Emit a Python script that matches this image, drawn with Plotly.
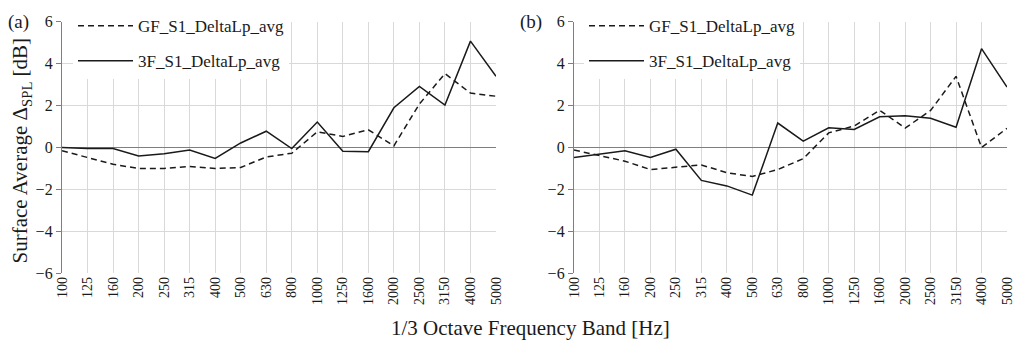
import plotly.graph_objects as go

bands = ["100", "125", "160", "200", "250", "315", "400", "500", "630", "800",
         "1000", "1250", "1600", "2000", "2500", "3150", "4000", "5000"]

gf_a = [-0.15, -0.47, -0.8, -1.0, -1.0, -0.9, -1.0, -0.95, -0.45, -0.27,
        0.75, 0.53, 0.85, 0.08, 2.08, 3.53, 2.6, 2.45]
f3_a = [0.0, -0.05, -0.05, -0.4, -0.3, -0.12, -0.52, 0.22, 0.78, -0.05,
        1.22, -0.18, -0.2, 1.9, 2.92, 2.03, 5.08, 3.4]

gf_b = [-0.12, -0.4, -0.65, -1.05, -0.95, -0.83, -1.2, -1.38, -1.05, -0.53,
        0.7, 1.03, 1.78, 0.93, 1.77, 3.4, 0.0, 0.92]
f3_b = [-0.47, -0.3, -0.15, -0.47, -0.08, -1.57, -1.83, -2.27, 1.17, 0.31,
        0.94, 0.86, 1.47, 1.52, 1.4, 0.97, 4.72, 2.89]

names = ["GF_S1_DeltaLp_avg", "3F_S1_DeltaLp_avg"]
yticks = [-6, -4, -2, 0, 2, 4, 6]

FONT = "Liberation Serif"
# page body has an 8px margin; size the figure so that it fits the window
OFF = 8
W, H = 1024 - 2 * OFF, 350 - 2 * OFF
LINE = "#1a1a1a"
TXT = "#1a1a1a"


def px(x):
    return (x - OFF) / W


def py(y):
    return 1 - (y - OFF) / H


fig = go.Figure()

panels = [
    ("x", "y", "legend", gf_a, f3_a),
    ("x2", "y2", "legend2", gf_b, f3_b),
]
for xa, ya, lg, gf, f3 in panels:
    fig.add_trace(go.Scatter(x=bands, y=gf, mode="lines", name=names[0],
                             line=dict(color=LINE, width=1.5, dash="6px,4px"),
                             xaxis=xa, yaxis=ya, legend=lg, legendgroup=lg + "a"))
    fig.add_trace(go.Scatter(x=bands, y=f3, mode="lines", name=names[1],
                             line=dict(color=LINE, width=1.5),
                             xaxis=xa, yaxis=ya, legend=lg, legendgroup=lg + "b"))

ydom = [py(272), py(16)]
xdoms = [[px(62), px(496)], [px(574), px(1007)]]

common_x = dict(type="category", range=[0, len(bands) - 1], showgrid=True,
                gridcolor="#d9d9d9", gridwidth=1, tickangle=-90,
                tickfont=dict(family=FONT, size=14, color=TXT),
                showline=False, zeroline=False, ticks="", automargin=False,
                fixedrange=True)
common_y = dict(range=[-6, 6], tickvals=yticks, showgrid=True,
                gridcolor="#d9d9d9", gridwidth=1, zeroline=True,
                zerolinecolor="#7f7f7f", zerolinewidth=1.3,
                showline=True, linecolor="#7f7f7f", linewidth=1.3,
                ticks="outside", ticklen=5, tickcolor="#7f7f7f",
                tickfont=dict(family=FONT, size=16, color=TXT),
                automargin=False, fixedrange=True)

leg_common = dict(xanchor="left", yanchor="top", bgcolor="white",
                  font=dict(family=FONT, size=17, color=TXT),
                  tracegroupgap=10, itemwidth=55)

fig.update_layout(
    template="none",
    width=W, height=H,
    margin=dict(l=0, r=0, t=0, b=0),
    paper_bgcolor="white", plot_bgcolor="white",
    font=dict(family=FONT, color=TXT),
    xaxis=dict(domain=xdoms[0], anchor="y", **common_x),
    yaxis=dict(domain=ydom, anchor="x", **common_y),
    xaxis2=dict(domain=xdoms[1], anchor="y2", **common_x),
    yaxis2=dict(domain=ydom, anchor="x2", **common_y),
    legend=dict(x=px(73), y=py(2), **leg_common),
    legend2=dict(x=px(584), y=py(2), **leg_common),
    showlegend=True,
)

fig.add_annotation(text="Surface Average Δ<sub>SPL</sub> [dB]", xref="paper", yref="paper",
                   x=px(21), y=py(147), textangle=-90, showarrow=False,
                   xanchor="center", yanchor="middle",
                   font=dict(family=FONT, size=21, color=TXT))
fig.add_annotation(text="1/3 Octave Frequency Band [Hz]", xref="paper", yref="paper",
                   x=px(530), y=py(328), showarrow=False,
                   xanchor="center", yanchor="middle",
                   font=dict(family=FONT, size=21, color=TXT))
fig.add_annotation(text="(a)", xref="paper", yref="paper", x=px(18), y=py(16),
                   showarrow=False, xanchor="center", yanchor="middle",
                   font=dict(family=FONT, size=19, color=TXT))
fig.add_annotation(text="(b)", xref="paper", yref="paper", x=px(531), y=py(16),
                   showarrow=False, xanchor="center", yanchor="middle",
                   font=dict(family=FONT, size=19, color=TXT))

fig.write_html("out.html")
